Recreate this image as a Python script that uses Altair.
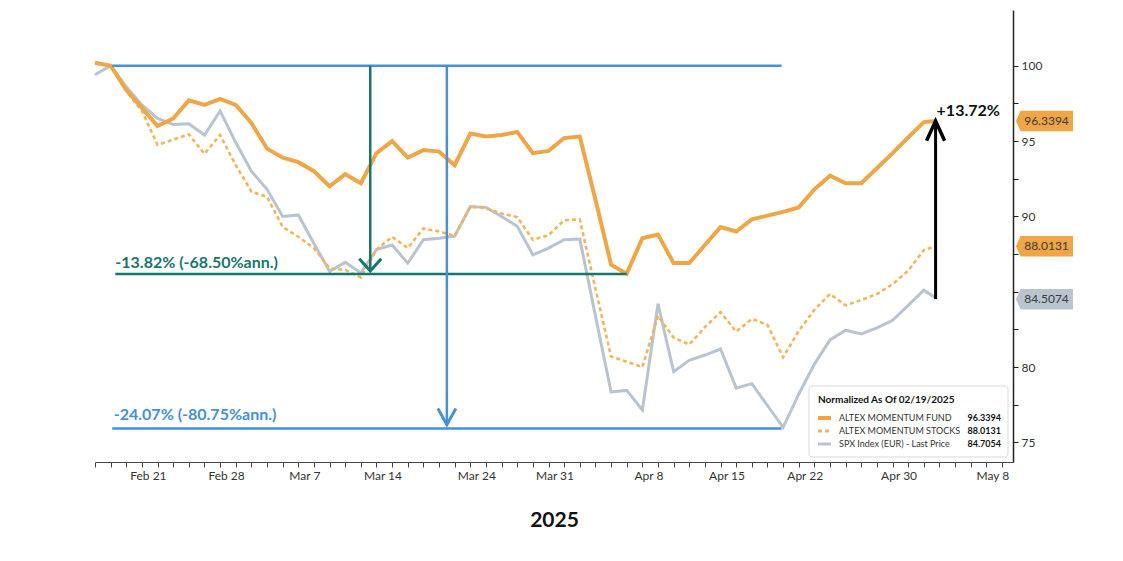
import altair as alt
import pandas as pd

# ---------------- data ----------------
series_names = ["ALTEX MOMENTUM FUND", "ALTEX MOMENTUM STOCKS", "SPX Index (EUR) - Last Price"]
legend_values = ["96.3394", "88.0131", "84.7054"]
tag_values = [96.3394, 88.0131, 84.5074]
tag_texts = ["96.3394", "88.0131", "84.5074"]

# weekday index, 0 = Feb 19 2025 (normalisation date)
day_index = list(range(-1, 53)) + [52.75]

fund = [100.2, 100.0, 98.4, 97.2, 96.0, 96.5, 97.7, 97.4, 97.8, 97.4,
        96.2, 94.5, 93.9, 93.6, 93.0, 92.0, 92.8, 92.2, 94.2, 95.0,
        93.9, 94.4, 94.3, 93.4, 95.5, 95.3, 95.4, 95.6, 94.2, 94.35,
        95.2, 95.3, 91.1, 86.8, 86.2, 88.55, 88.8, 86.9, 86.9, 88.1,
        89.3, 89.0, 89.8, 90.05, 90.3, 90.6, 91.8, 92.7, 92.2, 92.2,
        93.2, 94.2, 95.25, 96.26, 96.34]

stocks = [100.2, 100.0, 98.3, 97.0, 94.75, 95.1, 95.45, 94.15, 95.4, 93.4,
          91.65, 91.3, 89.3, 88.65, 87.9, 86.55, 86.45, 85.95, 87.8, 88.65,
          87.9, 89.2, 89.0, 88.7, 90.65, 90.55, 90.2, 89.95, 88.45, 88.75,
          89.75, 89.8, 85.2, 80.7, 80.35, 80.0, 83.4, 81.95, 81.5, 82.65,
          83.65, 82.35, 83.2, 82.8, 80.65, 82.4, 83.8, 84.85, 84.1, 84.45,
          84.85, 85.5, 86.4, 87.77, 88.01]

spx = [99.4, 100.0, 98.6, 97.4, 96.5, 96.1, 96.15, 95.4, 97.0, 94.9,
       93.0, 91.8, 90.0, 90.1, 88.2, 86.35, 86.95, 86.25, 87.8, 88.1,
       86.9, 88.45, 88.55, 88.7, 90.65, 90.6, 90.0, 89.35, 87.45, 87.9,
       88.45, 88.5, 83.4, 78.35, 78.45, 77.15, 84.2, 79.7, 80.45, 80.8,
       81.2, 78.6, 78.9, 77.45, 76.0, 78.2, 80.2, 81.8, 82.45, 82.2,
       82.6, 83.1, 84.1, 85.1, 84.6]

tick_positions = [2, 7, 12, 17, 23, 28, 34, 39, 44, 50, 56]
tick_labels = ["Feb 21", "Feb 28", "Mar 7", "Mar 14", "Mar 24", "Mar 31",
               "Apr 8", "Apr 15", "Apr 22", "Apr 30", "May 8"]
y_labelled = [75, 80, 90, 95, 100]   # 85 sits hidden behind the SPX value tag

# annotation values
peak_level = 100.0
teal_level = 86.18
blue_level = 75.93
teal_text = "-13.82% (-68.50%ann.)"
blue_text = "-24.07% (-80.75%ann.)"
gain_text = "+13.72%"
teal_arrow_x, teal_span_end = 16.6, 33
blue_arrow_x, blue_span_end = 21.5, 42.9
gain_arrow_x = 52.75
gain_from, gain_to = 84.51, 96.34
legend_title = "Normalized As Of 02/19/2025"

# ---------------- styles ----------------
ORANGE = "#F0A646"
DOTTED = "#F2B55C"
GREY = "#B9C4D1"
BLUE = "#4490DC"
TEAL = "#17766C"
FONT = "Lato"

W, H = 918, 452
x_scale = alt.Scale(domain=[-1, 57.7], nice=False, zero=False)
y_scale = alt.Scale(domain=[73.7, 103.7], nice=False, zero=False)

label_expr = "".join(f"datum.value === {p} ? '{l}' : " for p, l in zip(tick_positions, tick_labels)) + "''"
y_label_expr = "indexof([" + ",".join(str(v) for v in y_labelled) + "], datum.value) >= 0 ? format(datum.value, 'd') : ''"

x_axis = alt.Axis(values=list(range(-1, 58)), labelExpr=label_expr, labelOverlap=False,
                  labelFlush=False, labelOffset=6, labelFont=FONT, labelFontSize=12,
                  labelColor="#333333", labelPadding=3, tickSize=5, tickColor="#444444",
                  domainColor="#444444", grid=False, title="2025", titleFont=FONT,
                  titleFontSize=21, titleFontWeight="bold", titleColor="#111111",
                  titlePadding=28)
y_axis = alt.Axis(orient="right", values=[75 + 2.5 * k for k in range(11)],
                  labelExpr=y_label_expr,
                  labelOverlap=False, labelFont=FONT, labelFontSize=12, labelColor="#333333",
                  labelPadding=3, tickSize=5, tickColor="#222222", domainColor="#222222",
                  domainWidth=1.5, grid=False, title=None)


def X(field):
    return alt.X(f"{field}:Q", scale=x_scale, axis=x_axis, title="2025")


def Y(field):
    return alt.Y(f"{field}:Q", scale=y_scale, axis=y_axis, title=None)


n = len(day_index)
df = pd.DataFrame({
    "idx": day_index * 3,
    "value": fund + stocks + spx,
    "series": [series_names[0]] * n + [series_names[1]] * n + [series_names[2]] * n,
})

base = alt.Chart(df)
grey_line = base.transform_filter(alt.datum.series == series_names[2]).mark_line(
    color=GREY, strokeWidth=3).encode(x=X("idx"), y=Y("value"))
dot_line = base.transform_filter(alt.datum.series == series_names[1]).mark_line(
    color=DOTTED, strokeWidth=2.6, strokeDash=[4, 3]).encode(x=X("idx"), y=Y("value"))
fund_line = base.transform_filter(alt.datum.series == series_names[0]).mark_line(
    color=ORANGE, strokeWidth=4).encode(x=X("idx"), y=Y("value"))

# horizontal reference lines
blue_h = alt.Chart(pd.DataFrame({"y": [peak_level, blue_level], "x1": [0.1, 0.1],
                                 "x2": [blue_span_end, blue_span_end]})).mark_rule(
    color=BLUE, strokeWidth=2.5).encode(x=X("x1"), x2="x2:Q", y=Y("y"))
teal_h = alt.Chart(pd.DataFrame({"y": [teal_level], "x1": [0.3], "x2": [teal_span_end]})).mark_rule(
    color=TEAL, strokeWidth=2.5).encode(x=X("x1"), x2="x2:Q", y=Y("y"))


# vertical arrows
def v_arrow(xv, y1, y2, color, width, shape, size):
    d = pd.DataFrame({"x": [xv], "y1": [y1], "y2": [y2]})
    rule = alt.Chart(d).mark_rule(color=color, strokeWidth=width).encode(x=X("x"), y=Y("y1"), y2="y2:Q")
    head = alt.Chart(d).mark_point(shape=shape, size=size, filled=False, color=color,
                                   strokeWidth=width + 0.5, opacity=1).encode(x=X("x"), y=Y("y2"))
    return rule + head


teal_arrow = v_arrow(teal_arrow_x, peak_level, teal_level + 0.2, TEAL, 2.5, "M-1,-1.1L0,0L1,-1.1", 484)
blue_arrow = v_arrow(blue_arrow_x, peak_level, blue_level + 0.25, BLUE, 2.5, "M-1,-1.8L0,0L1,-1.8", 324)
gain_arrow = v_arrow(gain_arrow_x, gain_from, gain_to, "#000000", 3, "M-1,2.2L0,0L1,2.2", 324)


# annotation texts
def note(xv, yv, txt, color, dx, dy):
    d = pd.DataFrame({"x": [xv], "y": [yv], "t": [txt]})
    return alt.Chart(d).mark_text(align="left", baseline="bottom", dx=dx, dy=dy, font=FONT,
                                  fontSize=16, fontWeight="bold", color=color).encode(
        x=X("x"), y=Y("y"), text="t:N")


teal_note = note(0.3, teal_level, teal_text, TEAL, 0, -3)
blue_note = note(0.2, blue_level, blue_text, BLUE, 0, -5)
gain_note = note(gain_arrow_x, gain_to, gain_text, "#111111", 1, -2)

# right-hand value tags
tag_df = pd.DataFrame({"v": tag_values, "t": tag_texts, "s": series_names})
tag_shape = "M-1,0L-0.84,-0.36L1,-0.36L1,0.36L-0.84,0.36Z"
tags = alt.Chart(tag_df).mark_point(shape=tag_shape, size=3249, filled=True, opacity=1,
                                    strokeWidth=0).encode(
    x=alt.value(W + 31.5), y=Y("v"),
    color=alt.Color("s:N", scale=alt.Scale(domain=series_names, range=[ORANGE, ORANGE, GREY]),
                    legend=None))
tag_text = alt.Chart(tag_df).mark_text(font=FONT, fontSize=12, color="#3a3a3a", align="center",
                                       baseline="middle", dx=2).encode(
    x=alt.value(W + 31.5), y=Y("v"), text="t:N")

# legend box (drawn by hand, values right aligned)
one = pd.DataFrame({"a": [0]})
lx0, lx1, ly0, ly1 = 714, 913, 376, 447
leg_box = alt.Chart(one).mark_rect(fill="white", stroke="#D9D9D9", strokeWidth=1,
                                   cornerRadius=3).encode(
    x=alt.value(lx0), x2=alt.value(lx1), y=alt.value(ly0), y2=alt.value(ly1))
leg_title = alt.Chart(pd.DataFrame({"t": [legend_title]})).mark_text(
    align="left", baseline="middle", font=FONT, fontSize=10, fontWeight="bold", color="#111111").encode(
    x=alt.value(lx0 + 9), y=alt.value(ly0 + 14), text="t:N")

leg_layers = [leg_box, leg_title]
sym_styles = [(ORANGE, 4, [1, 0]), (DOTTED, 3, [4, 3]), (GREY, 3, [1, 0])]
for i, (name, val) in enumerate(zip(series_names, legend_values)):
    yy = ly0 + 32 + 13 * i
    col, sw, dash = sym_styles[i]
    leg_layers.append(alt.Chart(one).mark_rule(color=col, strokeWidth=sw, strokeDash=dash).encode(
        x=alt.value(lx0 + 9), x2=alt.value(lx0 + 22), y=alt.value(yy)))
    leg_layers.append(alt.Chart(pd.DataFrame({"t": [name]})).mark_text(
        align="left", baseline="middle", font=FONT, fontSize=9, color="#333333").encode(
        x=alt.value(lx0 + 30), y=alt.value(yy), text="t:N"))
    leg_layers.append(alt.Chart(pd.DataFrame({"t": [val]})).mark_text(
        align="right", baseline="middle", font=FONT, fontSize=9, fontWeight="bold",
        color="#111111").encode(x=alt.value(lx1 - 7), y=alt.value(yy), text="t:N"))

chart = alt.layer(
    grey_line, dot_line, fund_line,
    blue_h, teal_h, teal_arrow, blue_arrow, gain_arrow,
    teal_note, blue_note, gain_note,
    tags, tag_text,
    *leg_layers,
).properties(
    width=W, height=H, padding={"left": 79, "top": 2, "right": 5, "bottom": 5},
    background="white",
).configure_view(stroke=None)

chart.save("out.html", embed_options={"renderer": "svg", "actions": False})
